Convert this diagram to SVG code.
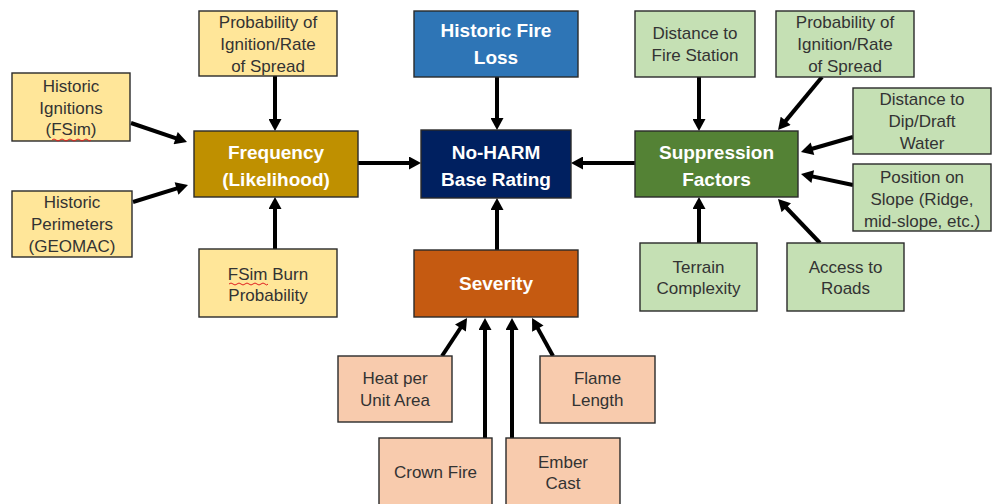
<svg xmlns="http://www.w3.org/2000/svg" width="992" height="504" viewBox="0 0 992 504">
<style>
.box{stroke:#2a2a2a;stroke-width:1.4}
.y{fill:#FFE699}.g{fill:#C5E0B4}.p{fill:#F8CBAD}
.t{font-family:"Liberation Sans",Arial,sans-serif;font-size:17px;fill:#333;text-anchor:middle}
.h{font-family:"Liberation Sans",Arial,sans-serif;font-size:19px;font-weight:bold;fill:#fff;text-anchor:middle}
.c{stroke:#000;stroke-width:4;fill:none;marker-end:url(#ah)}
.sq{stroke:#e02020;stroke-width:1;fill:none}
</style>
<defs>
<marker id="ah" markerUnits="userSpaceOnUse" markerWidth="13" markerHeight="13" viewBox="0 0 12 13" refX="3" refY="6.5" orient="auto">
<path d="M0,0 L12,6.5 L0,13 z" fill="#000"/>
</marker>
</defs>
<rect width="992" height="504" fill="#fff"/>

<g id="connectors">
<line class="c" x1="275" y1="76" x2="275" y2="122"/>
<line class="c" x1="131" y1="123" x2="178.5" y2="139.1"/>
<line class="c" x1="133" y1="202" x2="179.4" y2="187.7"/>
<line class="c" x1="275" y1="249" x2="275" y2="206"/>
<line class="c" x1="497" y1="77" x2="497" y2="121"/>
<line class="c" x1="358" y1="163" x2="412" y2="163"/>
<line class="c" x1="635" y1="163" x2="580" y2="163"/>
<line class="c" x1="497" y1="250" x2="497" y2="207"/>
<line class="c" x1="699" y1="77" x2="699" y2="122"/>
<line class="c" x1="822" y1="77" x2="783.8" y2="123.1"/>
<line class="c" x1="853" y1="137" x2="809.6" y2="149.5"/>
<line class="c" x1="853" y1="185" x2="809.8" y2="175.9"/>
<line class="c" x1="820" y1="243" x2="784.2" y2="205.5"/>
<line class="c" x1="699" y1="243" x2="699" y2="206"/>
<line class="c" x1="442" y1="356" x2="462.1" y2="325.5"/>
<line class="c" x1="485" y1="438" x2="485" y2="327"/>
<line class="c" x1="512" y1="438" x2="512" y2="327"/>
<line class="c" x1="553" y1="356" x2="536.4" y2="325.9"/>
</g>

<g id="prob-left">
<rect class="box y" x="199" y="11" width="138" height="65"/>
<text class="t" x="268" y="28">Probability of</text>
<text class="t" x="268" y="50">Ignition/Rate</text>
<text class="t" x="268" y="72">of Spread</text>
</g>
<g id="historic-ignitions">
<rect class="box y" x="12" y="73" width="118" height="68"/>
<text class="t" x="71" y="92">Historic</text>
<text class="t" x="71" y="113.5">Ignitions</text>
<text class="t" x="71" y="135">(FSim)</text>
<path class="sq" d="M52,140 q2,-2 4,0 t4,0 t4,0 t4,0 t4,0 t4,0 t4,0 t4,0 t4,0 t3,0"/>
</g>
<g id="historic-perimeters">
<rect class="box y" x="12" y="191" width="120" height="66"/>
<text class="t" x="72" y="208">Historic</text>
<text class="t" x="72" y="230">Perimeters</text>
<text class="t" x="72" y="252">(GEOMAC)</text>
</g>
<g id="fsim-burn">
<rect class="box y" x="199" y="249" width="138" height="68"/>
<text class="t" x="268" y="280">FSim Burn</text>
<text class="t" x="268" y="301">Probability</text>
<path class="sq" d="M229,284 q2,-2 4,0 t4,0 t4,0 t4,0 t4,0 t4,0 t4,0 t4,0 t4,0 t3,0"/>
</g>
<g id="frequency">
<rect class="box" fill="#BF9000" x="194" y="131" width="164" height="66"/>
<text class="h" x="276" y="159">Frequency</text>
<text class="h" x="276" y="186">(Likelihood)</text>
</g>

<g id="historic-fire-loss">
<rect class="box" fill="#2E75B6" x="414" y="11" width="164" height="66"/>
<text class="h" x="496" y="37">Historic Fire</text>
<text class="h" x="496" y="64">Loss</text>
</g>
<g id="no-harm">
<rect class="box" fill="#002060" x="421" y="130" width="150" height="68"/>
<text class="h" x="496" y="159">No-HARM</text>
<text class="h" x="496" y="186">Base Rating</text>
</g>
<g id="severity">
<rect class="box" fill="#C55A11" x="414" y="250" width="164" height="67"/>
<text class="h" x="496" y="290">Severity</text>
</g>

<g id="dist-fire-station">
<rect class="box g" x="635" y="11" width="120" height="66"/>
<text class="t" x="695" y="39">Distance to</text>
<text class="t" x="695" y="61">Fire Station</text>
</g>
<g id="prob-right">
<rect class="box g" x="776" y="11" width="138" height="66"/>
<text class="t" x="845" y="28">Probability of</text>
<text class="t" x="845" y="50">Ignition/Rate</text>
<text class="t" x="845" y="72">of Spread</text>
</g>
<g id="dist-dip">
<rect class="box g" x="853" y="88" width="138" height="66"/>
<text class="t" x="922" y="105">Distance to</text>
<text class="t" x="922" y="127">Dip/Draft</text>
<text class="t" x="922" y="149">Water</text>
</g>
<g id="position-slope">
<rect class="box g" x="853" y="164" width="138" height="67"/>
<text class="t" x="922" y="183">Position on</text>
<text class="t" x="922" y="205">Slope (Ridge,</text>
<text class="t" x="922" y="227">mid-slope, etc.)</text>
</g>
<g id="suppression">
<rect class="box" fill="#548235" x="635" y="131" width="163" height="66"/>
<text class="h" x="716.5" y="159">Suppression</text>
<text class="h" x="716.5" y="186">Factors</text>
</g>
<g id="terrain">
<rect class="box g" x="640" y="243" width="117" height="68"/>
<text class="t" x="698.5" y="273">Terrain</text>
<text class="t" x="698.5" y="294">Complexity</text>
</g>
<g id="access-roads">
<rect class="box g" x="787" y="243" width="117" height="68"/>
<text class="t" x="845.5" y="273">Access to</text>
<text class="t" x="845.5" y="294">Roads</text>
</g>

<g id="heat">
<rect class="box p" x="338" y="356" width="114" height="66"/>
<text class="t" x="395" y="384">Heat per</text>
<text class="t" x="395" y="406">Unit Area</text>
</g>
<g id="flame">
<rect class="box p" x="540" y="356" width="115" height="67"/>
<text class="t" x="597.5" y="384">Flame</text>
<text class="t" x="597.5" y="406">Length</text>
</g>
<g id="crown-fire">
<rect class="box p" x="379" y="438" width="113" height="80"/>
<text class="t" x="435.5" y="478">Crown Fire</text>
</g>
<g id="ember-cast">
<rect class="box p" x="506" y="438" width="114" height="80"/>
<text class="t" x="563" y="468">Ember</text>
<text class="t" x="563" y="489">Cast</text>
</g>
</svg>
